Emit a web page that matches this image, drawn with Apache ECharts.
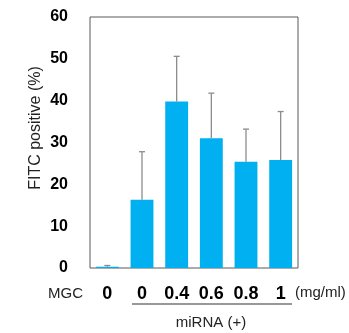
<!DOCTYPE html>
<html>
<head>
<meta charset="utf-8">
<script src="https://cdn.jsdelivr.net/npm/echarts@6/dist/echarts.min.js"></script>
<style>
  html, body { margin: 0; padding: 0; background: #fff; }
  #chart { width: 349px; height: 333px; }
</style>
</head>
<body>
<div id="chart"></div>
<script>
// MGC concentration (mg/ml) per bar; first bar is the no-miRNA control
const doseLabels = ['0', '0', '0.4', '0.6', '0.8', '1'];
const fitcMean = [0.3, 16.3, 39.8, 31.0, 25.4, 25.8];
const fitcErr = [0.3, 11.5, 10.8, 10.8, 7.8, 11.6];
const yTicks = [0, 10, 20, 30, 40, 50, 60];

const chart = echarts.init(document.getElementById('chart'));

const errData = fitcMean.map((m, i) => [i, m, m + fitcErr[i]]);

chart.setOption({
  animation: false,
  grid: {
    left: 90, right: 51, top: 17, bottom: 65,
    show: true, borderColor: '#595959', borderWidth: 1
  },
  xAxis: {
    type: 'category',
    data: doseLabels,
    axisLine: { show: false },
    axisTick: { show: false },
    axisLabel: {
      color: '#000', fontFamily: 'Liberation Sans, Arial', fontWeight: 'bold',
      fontSize: 18, margin: 17, interval: 0
    }
  },
  yAxis: {
    type: 'value',
    min: yTicks[0], max: yTicks[yTicks.length - 1], interval: 10,
    splitLine: { show: false },
    axisLine: { show: false },
    axisTick: { show: false },
    axisLabel: {
      color: '#000', fontFamily: 'Liberation Sans, Arial', fontWeight: 'bold',
      fontSize: 16, margin: 22
    }
  },
  graphic: [
    {
      type: 'text', x: 36, y: 128, rotation: Math.PI / 2,
      style: {
        text: 'FITC positive (%)', fill: '#222', font: '16px "Liberation Sans", Arial',
        align: 'center', verticalAlign: 'middle'
      }
    },
    {
      type: 'text', x: 65.5, y: 294,
      style: {
        text: 'MGC', fill: '#222', font: '15px "Liberation Sans", Arial',
        align: 'center', verticalAlign: 'middle'
      }
    },
    {
      type: 'text', x: 295, y: 293,
      style: {
        text: '(mg/ml)', fill: '#222', font: '15px "Liberation Sans", Arial',
        align: 'left', verticalAlign: 'middle'
      }
    },
    {
      type: 'line', shape: { x1: 132, y1: 304, x2: 292, y2: 304 },
      style: { stroke: '#333', lineWidth: 1.2 }
    },
    {
      type: 'text', x: 211, y: 323,
      style: {
        text: 'miRNA (+)', fill: '#222', font: '15px "Liberation Sans", Arial',
        align: 'center', verticalAlign: 'middle'
      }
    }
  ],
  series: [
    {
      type: 'bar',
      data: fitcMean,
      barWidth: '66%',
      itemStyle: { color: '#00B0F0' },
      z: 2
    },
    {
      type: 'custom',
      data: errData,
      z: 3,
      renderItem: function (params, api) {
        const x = api.value(0);
        const lo = api.coord([x, api.value(1)]);
        const hi = api.coord([x, api.value(2)]);
        const cap = 3;
        const st = { stroke: '#8c8c8c', lineWidth: 1.3 };
        return {
          type: 'group',
          children: [
            { type: 'line', shape: { x1: lo[0], y1: lo[1], x2: hi[0], y2: hi[1] }, style: st },
            { type: 'line', shape: { x1: hi[0] - cap, y1: hi[1], x2: hi[0] + cap, y2: hi[1] }, style: st }
          ]
        };
      }
    }
  ]
});
</script>
</body>
</html>
